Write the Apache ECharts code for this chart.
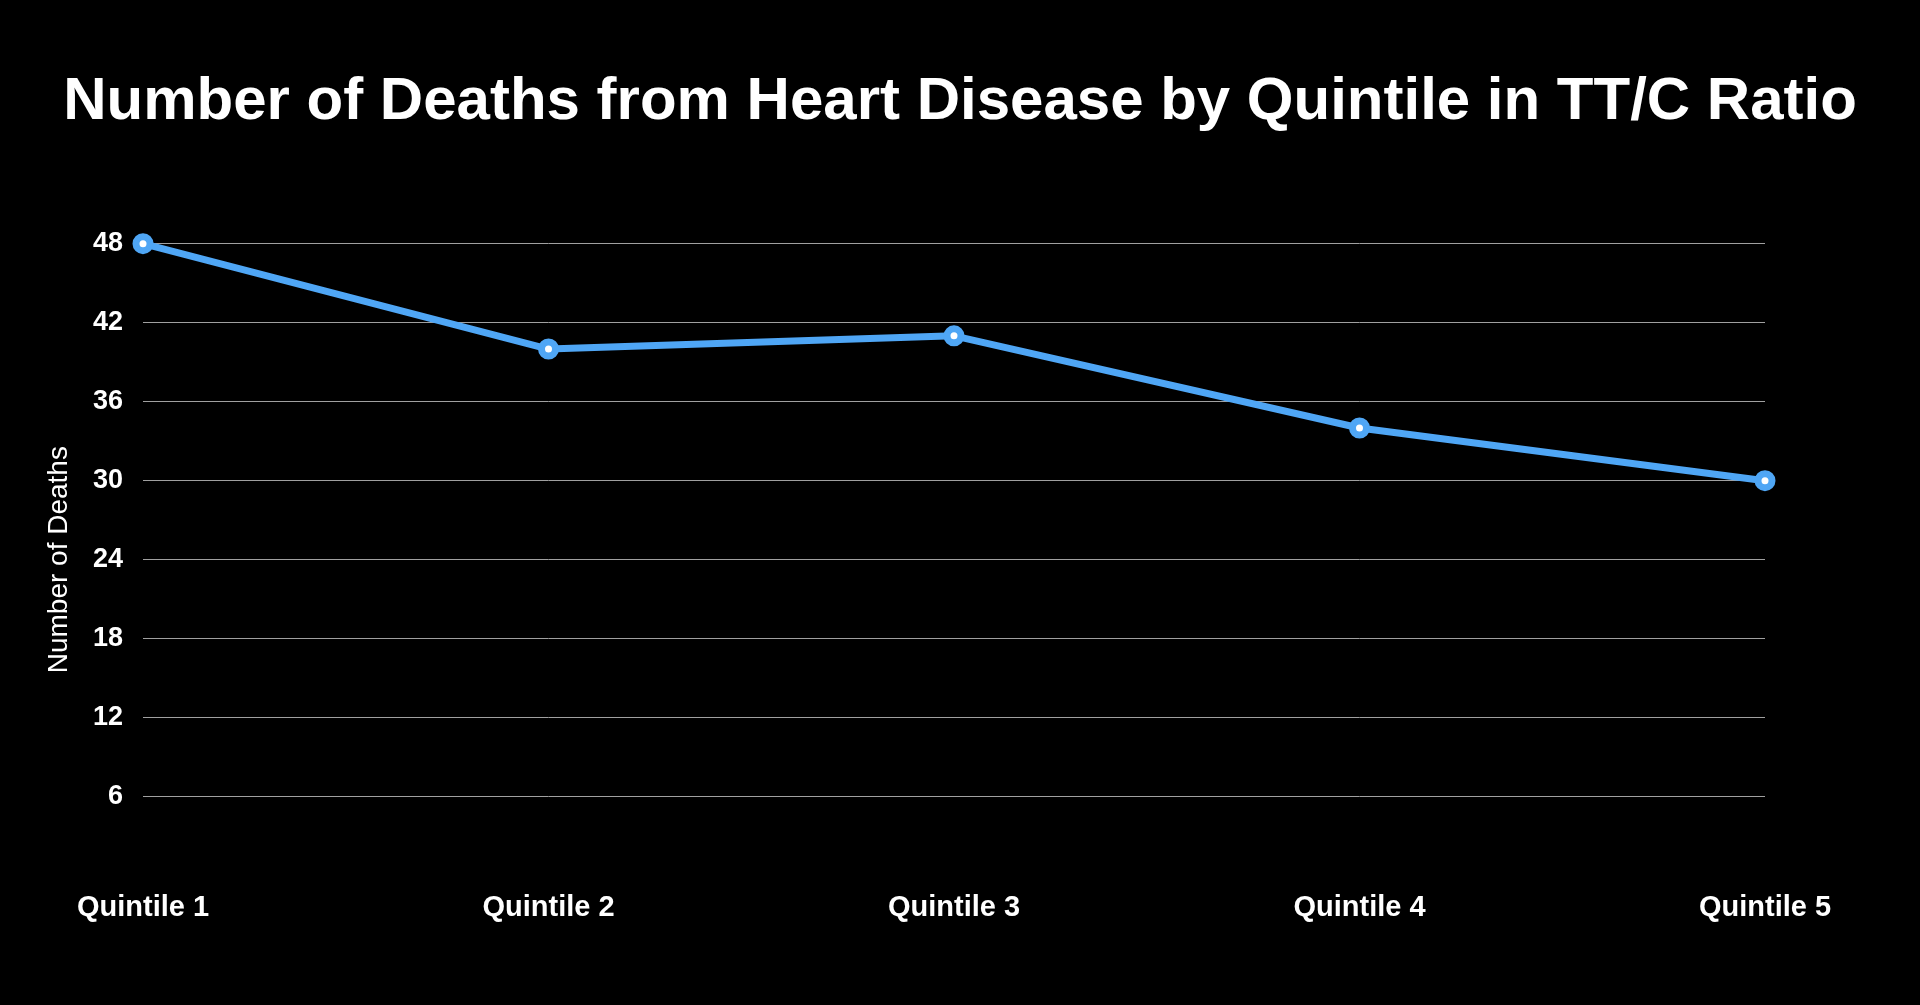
<!DOCTYPE html>
<html>
<head>
<meta charset="utf-8">
<style>
html,body{margin:0;padding:0;background:#000;}
#chart{width:1920px;height:1005px;}
</style>
<script src="https://cdn.jsdelivr.net/npm/echarts@6/dist/echarts.min.js"></script>
</head>
<body>
<div id="chart"></div>
<script>
const titleText = 'Number of Deaths from Heart Disease by Quintile in TT/C Ratio';
const categories = ['Quintile 1', 'Quintile 2', 'Quintile 3', 'Quintile 4', 'Quintile 5'];
const deaths = [48, 40, 41, 34, 30];
const yAxisName = 'Number of Deaths';

const font = '"Liberation Sans", Arial, Helvetica, sans-serif';
const chart = echarts.init(document.getElementById('chart'));
chart.setOption({
  backgroundColor: '#000000',
  animation: false,
  title: {
    text: titleText,
    left: 'center',
    top: 67,
    textStyle: { color: '#ffffff', fontFamily: font, fontWeight: 'bold', fontSize: 60 }
  },
  grid: { left: 143, right: 155, top: 243.7, bottom: 129.3, containLabel: false },
  xAxis: {
    type: 'category',
    data: categories,
    boundaryGap: false,
    axisLine: { show: false },
    axisTick: { show: false },
    axisLabel: { color: '#ffffff', fontFamily: font, fontWeight: 'bold', fontSize: 29, margin: 18 }
  },
  yAxis: {
    type: 'value',
    min: 0,
    max: 48,
    interval: 6,
    name: yAxisName,
    nameLocation: 'middle',
    nameGap: 70,
    nameTextStyle: { color: '#ffffff', fontFamily: font, fontSize: 28 },
    axisLine: { show: false },
    axisTick: { show: false },
    axisLabel: { color: '#ffffff', fontFamily: font, fontWeight: 'bold', fontSize: 27, margin: 20, showMinLabel: false, padding: [5, 0, 0, 0] },
    splitLine: { show: true, showMinLine: false, lineStyle: { color: '#a0a0a0', width: 1 } }
  },
  series: [{
    type: 'line',
    data: deaths,
    symbol: 'circle',
    symbolSize: 14,
    itemStyle: { color: '#ffffff', borderColor: '#4fa6f5', borderWidth: 7 },
    lineStyle: { color: '#4fa6f5', width: 7 },
    z: 5
  }]
});
</script>
</body>
</html>
